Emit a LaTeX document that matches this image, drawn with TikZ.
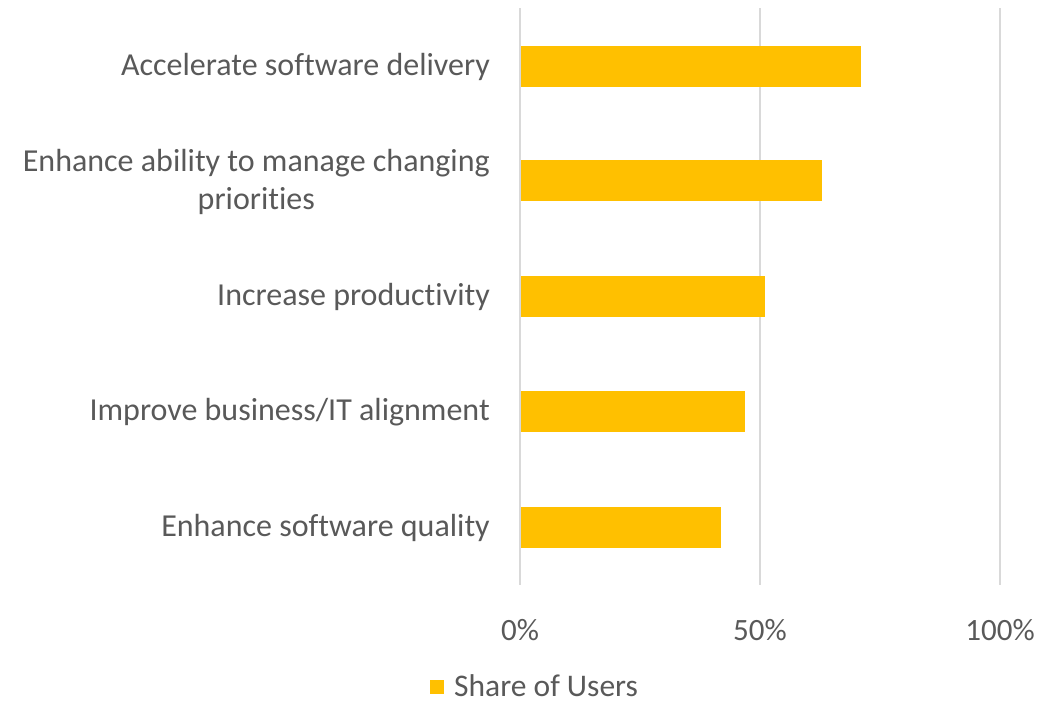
\documentclass[tikz,border=0pt]{standalone}
\usepackage{fontspec}
\setmainfont{Carlito}[Ligatures={NoCommon}]
\definecolor{bargold}{HTML}{FFC000}
\definecolor{gridgray}{HTML}{D9D9D9}
\definecolor{txtgray}{HTML}{595959}
\begin{document}
\begin{tikzpicture}[x=1pt,y=-1pt,
  grid/.style={draw=gridgray,line width=2pt},
  bar/.style={fill=bargold,draw=none},
  cat/.style={anchor=east,text=txtgray,font=\fontsize{32}{38}\selectfont,align=center,inner sep=0pt},
  tick/.style={anchor=center,text=txtgray,font=\fontsize{31}{36}\selectfont,inner sep=0pt}]
\useasboundingbox (0,0) rectangle (1064,702);
% gridlines
\foreach \x/\n in {520/g0,760/g50,1000/g100}{
  \coordinate (\n t) at (\x,8);
  \coordinate (\n b) at (\x,585);
  \draw[grid] (\n t) -- (\n b);
}
% bars
\foreach \yc/\xe/\n in {66/861/b1,180.5/822/b2,296/765/b3,411.5/745/b4,527/721/b5}{
  \fill[bar] (521,\yc-20.5) rectangle (\xe,\yc+20.5);
}
% category labels
\node[cat] (l1) at (490,67) {Accelerate software delivery};
\node[cat] (l2) at (490,181.5) {Enhance ability to manage changing\\priorities};
\node[cat] (l3) at (490,297) {Increase productivity};
\node[cat] (l4) at (490,412.5) {Improve business/IT alignment};
\node[cat] (l5) at (490,528) {Enhance software quality};
% axis labels
\node[tick] (t0) at (520,630) {0\%};
\node[tick] (t50) at (760,630) {50\%};
\node[tick] (t100) at (1000,630) {100\%};
% legend
\fill[bar] (430,680) rectangle (444,694);
\node[anchor=west,text=txtgray,font=\fontsize{31.5}{36}\selectfont,inner sep=0pt] (leg) at (454,686) {Share of Users};
\end{tikzpicture}
\end{document}
